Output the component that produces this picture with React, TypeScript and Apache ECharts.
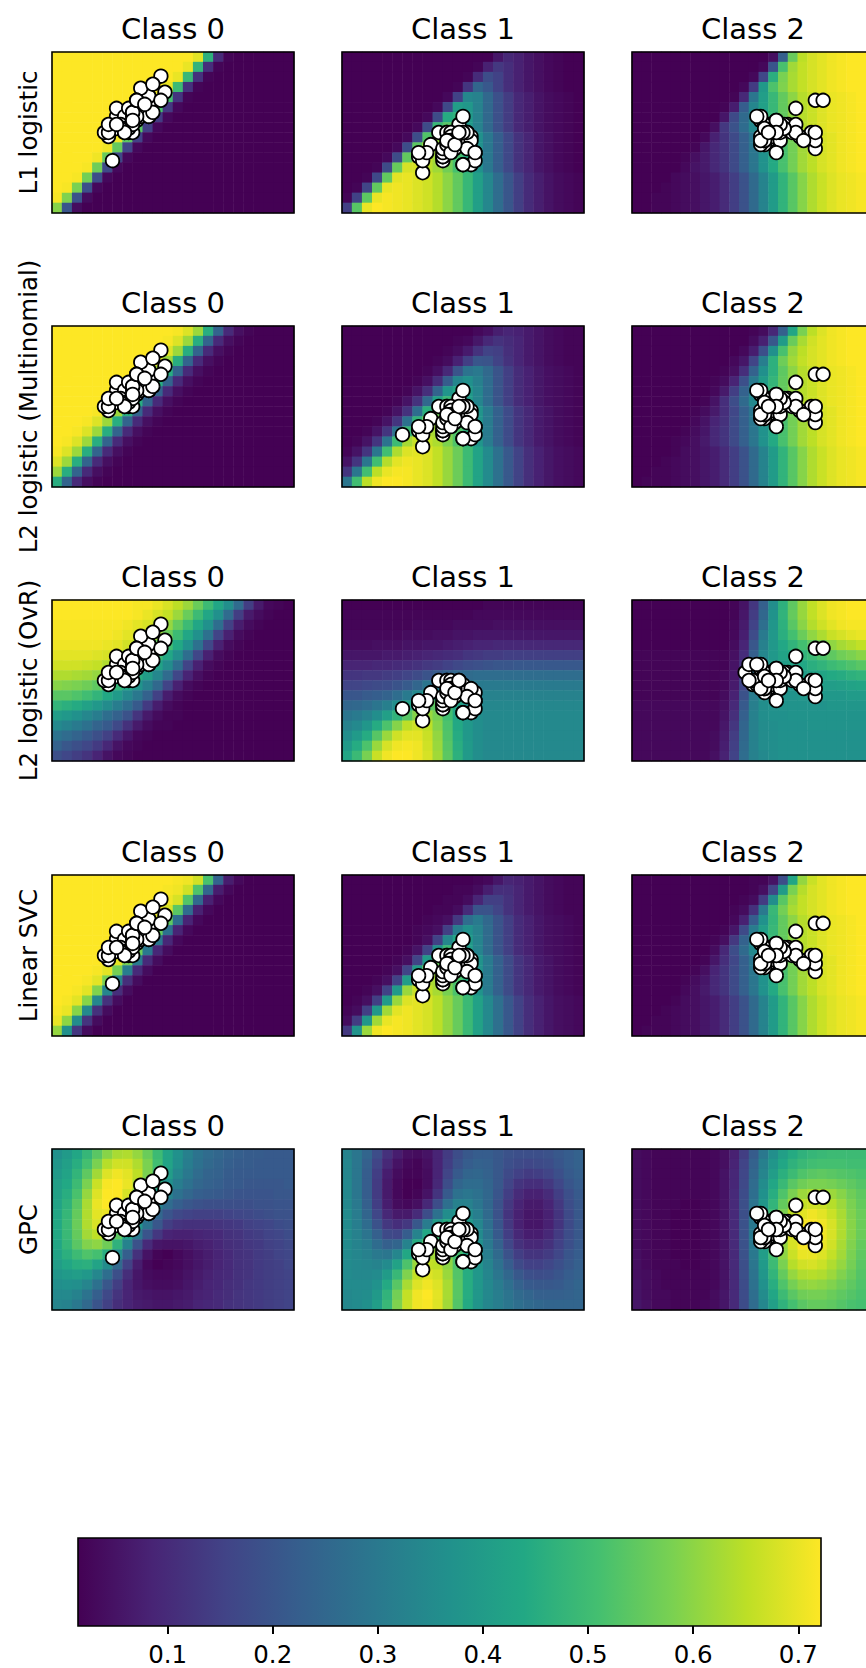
import React, { useEffect, useRef } from "react";
import * as echarts from "echarts";

// ---------------- data ----------------
const MODEL_NAMES = ["L1 logistic", "L2 logistic (Multinomial)", "L2 logistic (OvR)", "Linear SVC", "GPC"];
const CLASS_TITLES = ["Class 0", "Class 1", "Class 2"];
// centres of the probability cells: sepal length (x) and sepal width (y, bottom to top)
const GRID_X = [3.125, 3.375, 3.625, 3.875, 4.125, 4.375, 4.625, 4.875, 5.125, 5.375, 5.625, 5.875,
  6.125, 6.375, 6.625, 6.875, 7.125, 7.375, 7.625, 7.875, 8.125, 8.375, 8.625, 8.875];
const GRID_Y = [1.125, 1.375, 1.625, 1.875, 2.125, 2.375, 2.625, 2.875, 3.125, 3.375, 3.625, 3.875,
  4.125, 4.375, 4.625, 4.875];
const X_RANGE = [3, 9];
const Y_RANGE = [1, 5];
// colour bar of the last image (GPC, class 2)
const CBAR_MIN = 0.0147;
const CBAR_MAX = 0.7216;
const CBAR_TICKS = [0.1, 0.2, 0.3, 0.4, 0.5, 0.6, 0.7];

const SEPAL_LENGTH = [
  5.1, 4.9, 4.7, 4.6, 5.0, 5.4, 4.6, 5.0, 4.4, 4.9, 5.4, 4.8, 4.8, 4.3, 5.8, 5.7, 5.4, 5.1, 5.7, 5.1, 5.4, 5.1, 4.6, 5.1, 4.8,
  5.0, 5.0, 5.2, 5.2, 4.7, 4.8, 5.4, 5.2, 5.5, 4.9, 5.0, 5.5, 4.9, 4.4, 5.1, 5.0, 4.5, 4.4, 5.0, 5.1, 4.8, 5.1, 4.6, 5.3, 5.0,
  7.0, 6.4, 6.9, 5.5, 6.5, 5.7, 6.3, 4.9, 6.6, 5.2, 5.0, 5.9, 6.0, 6.1, 5.6, 6.7, 5.6, 5.8, 6.2, 5.6, 5.9, 6.1, 6.3, 6.1, 6.4,
  6.6, 6.8, 6.7, 6.0, 5.7, 5.5, 5.5, 5.8, 6.0, 5.4, 6.0, 6.7, 6.3, 5.6, 5.5, 5.5, 6.1, 5.8, 5.0, 5.6, 5.7, 5.7, 6.2, 5.1, 5.7,
  6.3, 5.8, 7.1, 6.3, 6.5, 7.6, 4.9, 7.3, 6.7, 7.2, 6.5, 6.4, 6.8, 5.7, 5.8, 6.4, 6.5, 7.7, 7.7, 6.0, 6.9, 5.6, 7.7, 6.3, 6.7,
  7.2, 6.2, 6.1, 6.4, 7.2, 7.4, 7.9, 6.4, 6.3, 6.1, 7.7, 6.3, 6.4, 6.0, 6.9, 6.7, 6.9, 5.8, 6.8, 6.7, 6.7, 6.3, 6.5, 6.2, 5.9,
];
const SEPAL_WIDTH = [
  3.5, 3.0, 3.2, 3.1, 3.6, 3.9, 3.4, 3.4, 2.9, 3.1, 3.7, 3.4, 3.0, 3.0, 4.0, 4.4, 3.9, 3.5, 3.8, 3.8, 3.4, 3.7, 3.6, 3.3, 3.4,
  3.0, 3.4, 3.5, 3.4, 3.2, 3.1, 3.4, 4.1, 4.2, 3.1, 3.2, 3.5, 3.6, 3.0, 3.4, 3.5, 2.3, 3.2, 3.5, 3.8, 3.0, 3.8, 3.2, 3.7, 3.3,
  3.2, 3.2, 3.1, 2.3, 2.8, 2.8, 3.3, 2.4, 2.9, 2.7, 2.0, 3.0, 2.2, 2.9, 2.9, 3.1, 3.0, 2.7, 2.2, 2.5, 3.2, 2.8, 2.5, 2.8, 2.9,
  3.0, 2.8, 3.0, 2.9, 2.6, 2.4, 2.4, 2.7, 2.7, 3.0, 3.4, 3.1, 2.3, 3.0, 2.5, 2.6, 3.0, 2.6, 2.3, 2.7, 3.0, 2.9, 2.9, 2.5, 2.8,
  3.3, 2.7, 3.0, 2.9, 3.0, 3.0, 2.5, 2.9, 2.5, 3.6, 3.2, 2.7, 3.0, 2.5, 2.8, 3.2, 3.0, 3.8, 2.6, 2.2, 3.2, 2.8, 2.8, 2.7, 3.3,
  3.2, 2.8, 3.0, 2.8, 3.0, 2.8, 3.8, 2.8, 2.8, 2.6, 3.0, 3.4, 3.1, 3.0, 3.1, 3.1, 3.1, 2.7, 3.2, 3.3, 3.0, 2.5, 3.0, 3.4, 3.0,
];

// predicted class of each sample, per classifier
const PRED_L1 = [
  0,0,0,0,0,0,0,0,0,0, 0,0,0,0,0,0,0,0,0,0, 0,0,0,0,0,0,0,0,0,0, 0,0,0,0,0,0,0,0,0,0, 0,0,0,0,0,0,0,0,0,0,
  2,2,2,1,2,1,2,1,2,1, 1,1,1,1,1,2,1,1,1,1, 1,1,1,1,2,2,2,2,1,1, 1,1,1,1,1,1,2,1,1,1, 1,1,1,1,1,1,1,1,1,1,
  2,1,2,2,2,2,1,2,2,2, 2,2,2,1,1,2,2,2,2,1, 2,1,2,2,2,2,1,1,2,2, 2,2,2,2,1,2,2,2,1,2, 2,2,1,2,2,2,1,2,2,1,
];
const PRED_L2M = [
  0,0,0,0,0,0,0,0,0,0, 0,0,0,0,0,0,0,0,0,0, 0,0,0,0,0,0,0,0,0,0, 0,0,0,0,0,0,0,0,0,0, 0,1,0,0,0,0,0,0,0,0,
  2,2,2,1,2,1,2,1,2,1, 1,1,1,1,1,2,1,1,1,1, 1,1,1,1,2,2,2,2,1,1, 1,1,1,1,1,1,2,1,1,1, 1,1,1,1,1,1,1,1,1,1,
  2,1,2,2,2,2,1,2,2,2, 2,2,2,1,1,2,2,2,2,1, 2,1,2,2,2,2,1,1,2,2, 2,2,2,2,1,2,2,2,1,2, 2,2,1,2,2,2,1,2,2,1,
];
const PRED_OVR = [
  0,0,0,0,0,0,0,0,0,0, 0,0,0,0,0,0,0,0,0,0, 0,0,0,0,0,0,0,0,0,0, 0,0,0,0,0,0,0,0,0,0, 0,1,0,0,0,0,0,0,0,0,
  2,2,2,1,2,1,2,1,2,1, 1,1,1,2,1,2,1,1,1,1, 2,1,1,1,2,2,2,2,1,1, 1,1,1,1,1,2,2,1,1,1, 1,2,1,1,1,1,1,2,1,1,
  2,1,2,2,2,2,1,2,2,2, 2,2,2,1,1,2,2,2,2,1, 2,1,2,1,2,2,1,2,2,2, 2,2,2,2,1,2,2,2,2,2, 2,2,1,2,2,2,1,2,2,1,
];
const PRED_SVC = [
  0,0,0,0,0,0,0,0,0,0, 0,0,0,0,0,0,0,0,0,0, 0,0,0,0,0,0,0,0,0,0, 0,0,0,0,0,0,0,0,0,0, 0,0,0,0,0,0,0,0,0,0,
  2,2,2,1,2,1,2,1,2,1, 1,1,1,1,1,2,1,1,1,1, 1,1,1,1,2,2,2,2,1,1, 1,1,1,1,1,1,2,1,1,1, 1,1,1,1,1,1,1,1,1,1,
  2,1,2,2,2,2,1,2,2,2, 2,2,2,1,1,2,2,2,2,1, 2,1,2,2,2,2,1,1,2,2, 2,2,2,2,1,2,2,2,1,2, 2,2,1,2,2,2,1,2,2,1,
];
const PRED_GPC = [
  0,0,0,0,0,0,0,0,0,0, 0,0,0,0,0,0,0,0,0,0, 0,0,0,0,0,0,0,0,0,0, 0,0,0,0,0,0,0,0,0,0, 0,0,0,0,0,0,0,0,0,0,
  2,2,2,1,2,1,2,1,2,1, 1,1,1,1,1,2,1,1,1,1, 1,1,1,1,2,2,2,2,1,1, 1,1,1,1,1,1,2,1,1,1, 1,1,1,1,1,1,1,1,1,1,
  2,1,2,2,2,2,1,2,2,2, 2,2,2,1,1,2,2,2,2,1, 2,1,2,2,2,2,1,1,2,2, 2,2,2,2,1,2,2,2,1,2, 2,2,1,2,2,2,1,2,2,1,
];

// estimated probability (percent of each image's own colour scale) on the cell grid;
// rows run from the top (width 4.875) to the bottom (width 1.125)
const L1_C0 = [
  [99,99,99,99,99,99,99,99,99,99,99,99,99,99,95,63,12,1,0,0,0,0,0,0],
  [99,99,99,99,99,99,99,99,99,99,99,99,99,96,64,13,1,0,0,0,0,0,0,0],
  [99,99,99,99,99,99,99,99,99,99,99,99,96,66,14,1,0,0,0,0,0,0,0,0],
  [99,99,99,99,99,99,99,99,99,99,99,96,67,14,1,0,0,0,0,0,0,0,0,0],
  [99,99,99,99,99,99,99,99,99,99,96,69,15,1,0,0,0,0,0,0,0,0,0,0],
  [99,99,99,99,99,99,99,99,99,96,70,16,2,0,0,0,0,0,0,0,0,0,0,0],
  [99,99,99,99,99,99,99,99,97,71,17,2,0,0,0,0,0,0,0,0,0,0,0,0],
  [99,99,99,99,99,99,99,97,73,18,2,0,0,0,0,0,0,0,0,0,0,0,0,0],
  [99,99,99,99,99,99,97,74,19,2,0,0,0,0,0,0,0,0,0,0,0,0,0,0],
  [99,99,99,99,99,97,75,20,2,0,0,0,0,0,0,0,0,0,0,0,0,0,0,0],
  [99,99,99,99,97,76,21,2,0,0,0,0,0,0,0,0,0,0,0,0,0,0,0,0],
  [99,99,99,98,77,22,2,0,0,0,0,0,0,0,0,0,0,0,0,0,0,0,0,0],
  [99,99,98,78,23,2,0,0,0,0,0,0,0,0,0,0,0,0,0,0,0,0,0,0],
  [99,98,79,24,2,0,0,0,0,0,0,0,0,0,0,0,0,0,0,0,0,0,0,0],
  [98,80,25,3,0,0,0,0,0,0,0,0,0,0,0,0,0,0,0,0,0,0,0,0],
  [81,26,3,0,0,0,0,0,0,0,0,0,0,0,0,0,0,0,0,0,0,0,0,0],
];
const L1_C1 = [
  [1,1,1,1,1,1,1,1,1,1,1,1,1,1,1,7,12,10,7,5,3,2,1,1],
  [1,1,1,1,1,1,1,1,1,1,1,1,1,2,10,17,14,10,7,5,3,2,1,1],
  [1,1,1,1,1,1,1,1,1,1,1,1,2,13,24,20,14,10,7,5,3,2,1,1],
  [1,1,1,1,1,1,1,1,1,1,1,2,16,33,28,20,14,10,7,5,3,2,1,1],
  [1,1,1,1,1,1,1,1,1,1,3,20,46,44,34,25,18,12,9,6,4,3,2,1],
  [1,1,1,1,1,1,1,1,1,3,22,55,53,44,34,25,18,12,9,6,4,3,2,1],
  [1,1,1,1,1,1,1,1,3,23,61,64,54,44,34,25,18,12,9,6,4,3,2,1],
  [1,1,1,1,1,1,1,3,23,66,73,65,54,44,34,25,18,12,9,6,4,3,2,1],
  [1,1,1,1,1,1,3,24,72,83,78,70,61,50,40,30,22,15,11,7,5,3,2,1],
  [1,1,1,1,1,3,24,74,87,85,78,70,61,50,40,30,22,15,11,7,5,3,2,1],
  [1,1,1,1,3,23,75,91,89,85,78,70,61,50,40,30,22,15,11,7,5,3,2,1],
  [1,1,1,2,23,76,93,93,89,85,78,70,61,50,40,30,22,15,11,7,5,3,2,1],
  [1,1,2,22,75,95,96,94,92,88,82,75,66,56,46,36,27,19,13,9,6,4,3,2],
  [1,2,21,75,96,97,96,94,92,88,82,75,66,56,46,36,27,19,13,9,6,4,3,2],
  [2,20,74,96,98,97,96,94,92,88,82,75,66,56,46,36,27,19,13,9,6,4,3,2],
  [19,73,96,99,98,97,96,94,92,88,82,75,66,56,46,36,27,19,13,9,6,4,3,2],
];
const L1_C2 = [
  [0,0,0,0,0,0,0,0,0,0,0,0,0,0,4,30,76,89,93,95,97,98,99,99],
  [0,0,0,0,0,0,0,0,0,0,0,0,0,2,26,70,85,90,93,95,97,98,99,99],
  [0,0,0,0,0,0,0,0,0,0,0,0,2,21,62,79,86,90,93,95,97,98,99,99],
  [0,0,0,0,0,0,0,0,0,0,0,2,17,53,71,80,86,90,93,95,97,98,99,99],
  [0,0,0,0,0,0,0,0,0,0,1,11,39,55,66,75,82,88,91,94,96,97,98,99],
  [0,0,0,0,0,0,0,0,0,1,8,29,45,56,66,75,82,88,91,94,96,97,98,99],
  [0,0,0,0,0,0,0,0,0,6,22,34,46,56,66,75,82,88,91,94,96,97,98,99],
  [0,0,0,0,0,0,0,0,4,16,25,35,46,56,66,75,82,88,91,94,96,97,98,99],
  [0,0,0,0,0,0,0,2,9,15,22,30,39,50,60,70,78,85,89,93,95,97,98,99],
  [0,0,0,0,0,0,1,6,11,15,22,30,39,50,60,70,78,85,89,93,95,97,98,99],
  [0,0,0,0,0,1,4,7,11,15,22,30,39,50,60,70,78,85,89,93,95,97,98,99],
  [0,0,0,0,0,2,5,7,11,15,22,30,39,50,60,70,78,85,89,93,95,97,98,99],
  [0,0,0,0,2,3,4,6,8,12,18,25,34,44,54,64,73,81,87,91,94,96,97,98],
  [0,0,0,1,2,3,4,6,8,12,18,25,34,44,54,64,73,81,87,91,94,96,97,98],
  [0,0,1,1,2,3,4,6,8,12,18,25,34,44,54,64,73,81,87,91,94,96,97,98],
  [0,0,1,1,2,3,4,6,8,12,18,25,34,44,54,64,73,81,87,91,94,96,97,98],
];
const L2M_C0 = [
  [100,100,100,100,100,100,100,100,100,100,100,100,99,95,85,62,32,12,4,1,0,0,0,0],
  [100,100,100,100,100,100,100,100,100,100,100,99,95,85,62,32,12,4,1,0,0,0,0,0],
  [100,100,100,100,100,100,100,100,100,100,99,95,85,62,32,12,4,1,0,0,0,0,0,0],
  [100,100,100,100,100,100,100,100,100,99,95,85,62,32,12,4,1,0,0,0,0,0,0,0],
  [100,100,100,100,100,100,100,100,99,95,85,62,32,12,4,1,0,0,0,0,0,0,0,0],
  [100,100,100,100,100,100,100,99,95,85,62,32,12,4,1,0,0,0,0,0,0,0,0,0],
  [100,100,100,100,100,100,99,95,85,62,32,12,4,1,0,0,0,0,0,0,0,0,0,0],
  [100,100,100,100,100,99,95,85,62,32,12,4,1,0,0,0,0,0,0,0,0,0,0,0],
  [100,100,100,100,99,95,85,62,32,12,4,1,0,0,0,0,0,0,0,0,0,0,0,0],
  [100,100,100,99,95,85,62,32,12,4,1,0,0,0,0,0,0,0,0,0,0,0,0,0],
  [100,100,99,95,85,62,32,12,4,1,0,0,0,0,0,0,0,0,0,0,0,0,0,0],
  [100,99,95,85,62,32,12,4,1,0,0,0,0,0,0,0,0,0,0,0,0,0,0,0],
  [99,95,85,62,32,12,4,1,0,0,0,0,0,0,0,0,0,0,0,0,0,0,0,0],
  [95,85,62,32,12,4,1,0,0,0,0,0,0,0,0,0,0,0,0,0,0,0,0,0],
  [85,62,32,12,4,1,0,0,0,0,0,0,0,0,0,0,0,0,0,0,0,0,0,0],
  [62,32,12,4,1,0,0,0,0,0,0,0,0,0,0,0,0,0,0,0,0,0,0,0],
];
const L2M_C1 = [
  [0,0,0,0,0,0,0,0,0,0,0,0,0,2,4,8,10,9,7,5,3,2,1,1],
  [0,0,0,0,0,0,0,0,0,0,0,1,2,6,11,14,12,10,7,5,3,2,1,1],
  [0,0,0,0,0,0,0,0,0,0,1,3,7,14,19,18,13,10,7,5,3,2,1,1],
  [0,0,0,0,0,0,0,0,0,1,3,9,18,26,25,19,14,10,7,5,3,2,1,1],
  [0,0,0,0,0,0,0,0,1,4,11,25,37,39,33,25,18,12,9,6,4,3,2,1],
  [0,0,0,0,0,0,0,1,4,12,28,44,48,42,34,25,18,12,9,6,4,3,2,1],
  [0,0,0,0,0,0,1,5,13,31,50,57,52,44,34,25,18,12,9,6,4,3,2,1],
  [0,0,0,0,0,1,5,14,33,55,65,62,53,44,34,25,18,12,9,6,4,3,2,1],
  [0,0,0,0,1,5,14,35,61,75,75,69,61,50,40,30,22,15,11,7,5,3,2,1],
  [0,0,0,1,5,15,36,63,78,82,77,70,61,50,40,30,22,15,11,7,5,3,2,1],
  [0,0,1,5,15,37,65,82,85,84,78,70,61,50,40,30,22,15,11,7,5,3,2,1],
  [0,1,5,15,37,66,84,89,88,85,78,70,61,50,40,30,22,15,11,7,5,3,2,1],
  [1,5,15,38,67,85,92,93,92,88,82,75,66,56,46,36,27,19,13,9,6,4,3,2],
  [5,15,38,67,86,93,95,94,92,88,82,75,66,56,46,36,27,19,13,9,6,4,3,2],
  [15,38,67,87,94,96,96,94,92,88,82,75,66,56,46,36,27,19,13,9,6,4,3,2],
  [38,67,87,95,97,97,96,94,92,88,82,75,66,56,46,36,27,19,13,9,6,4,3,2],
];
const L2M_C2 = [
  [0,0,0,0,0,0,0,0,0,0,0,0,1,3,11,30,58,79,89,94,97,98,99,99],
  [0,0,0,0,0,0,0,0,0,0,0,0,3,9,27,54,76,86,92,95,97,98,99,99],
  [0,0,0,0,0,0,0,0,0,0,0,2,8,24,49,70,83,89,93,95,97,98,99,99],
  [0,0,0,0,0,0,0,0,0,0,2,6,20,42,63,77,85,90,93,95,97,98,99,99],
  [0,0,0,0,0,0,0,0,0,1,4,13,31,49,63,74,82,88,91,94,96,97,98,99],
  [0,0,0,0,0,0,0,0,1,3,10,24,40,54,65,75,82,88,91,94,96,97,98,99],
  [0,0,0,0,0,0,0,0,2,7,18,31,44,55,66,75,82,88,91,94,96,97,98,99],
  [0,0,0,0,0,0,0,1,5,13,23,34,46,56,66,75,82,88,91,94,96,97,98,99],
  [0,0,0,0,0,0,1,3,7,13,21,30,39,50,60,70,78,85,89,93,95,97,98,99],
  [0,0,0,0,0,0,2,5,10,14,22,30,39,50,60,70,78,85,89,93,95,97,98,99],
  [0,0,0,0,0,1,3,6,11,15,22,30,39,50,60,70,78,85,89,93,95,97,98,99],
  [0,0,0,0,1,2,4,7,11,15,22,30,39,50,60,70,78,85,89,93,95,97,98,99],
  [0,0,0,0,1,3,4,6,8,12,18,25,34,44,54,64,73,81,87,91,94,96,97,98],
  [0,0,0,1,2,3,4,6,8,12,18,25,34,44,54,64,73,81,87,91,94,96,97,98],
  [0,0,1,1,2,3,4,6,8,12,18,25,34,44,54,64,73,81,87,91,94,96,97,98],
  [0,1,1,1,2,3,4,6,8,12,18,25,34,44,54,64,73,81,87,91,94,96,97,98],
];
const OVR_C0 = [
  [100,100,100,100,100,100,100,100,99,99,97,94,90,85,77,68,59,49,35,18,7,2,1,0],
  [100,100,100,100,100,100,100,100,99,97,94,91,85,77,68,59,50,35,18,7,3,1,0,0],
  [99,99,99,99,99,99,99,98,96,94,90,84,76,68,59,50,36,19,8,3,1,0,0,0],
  [99,99,99,99,99,99,98,96,94,90,85,77,68,59,50,37,20,9,3,1,0,0,0,0],
  [98,98,98,98,98,97,96,93,89,84,76,69,60,50,37,21,9,3,1,0,0,0,0,0],
  [96,96,96,96,95,94,91,87,83,76,67,59,49,36,21,9,3,1,0,0,0,0,0,0],
  [93,93,93,92,91,88,86,80,73,65,57,48,36,20,9,3,1,0,0,0,0,0,0,0],
  [88,88,87,86,84,81,77,70,62,55,46,35,21,10,4,1,0,0,0,0,0,0,0,0],
  [82,81,80,78,75,71,66,58,51,43,34,20,9,3,1,0,0,0,0,0,0,0,0,0],
  [74,74,72,69,65,60,54,47,40,31,19,8,3,1,0,0,0,0,0,0,0,0,0,0],
  [65,63,61,57,53,48,42,36,28,17,8,3,1,0,0,0,0,0,0,0,0,0,0,0],
  [55,53,50,46,42,36,31,25,15,7,3,1,1,0,0,0,0,0,0,0,0,0,0,0],
  [47,44,41,37,32,28,22,14,7,3,1,1,0,0,0,0,0,0,0,0,0,0,0,0],
  [38,35,32,28,24,19,12,6,2,1,0,0,0,0,0,0,0,0,0,0,0,0,0,0],
  [31,27,24,21,17,11,5,2,1,0,0,0,0,0,0,0,0,0,0,0,0,0,0,0],
  [24,21,18,15,10,5,2,1,0,0,0,0,0,0,0,0,0,0,0,0,0,0,0,0],
];
const OVR_C1 = [
  [2,2,2,2,2,2,2,2,2,2,2,2,2,2,3,3,3,3,3,3,3,3,3,3],
  [3,3,3,3,3,3,3,3,3,3,3,3,3,4,4,4,4,4,4,4,4,4,4,4],
  [3,3,3,3,3,3,3,4,4,4,4,5,5,5,5,6,6,6,6,6,6,6,6,6],
  [4,4,4,4,4,4,5,5,5,6,6,7,7,8,8,8,8,8,8,8,8,8,8,8],
  [5,5,5,6,6,6,7,7,8,8,9,10,11,12,12,13,13,13,13,13,13,13,13,13],
  [8,8,8,8,9,9,10,11,12,13,14,15,17,18,19,19,20,20,20,20,20,20,20,20],
  [12,12,12,13,13,14,15,16,18,19,21,23,25,26,27,28,28,29,29,29,29,29,29,29],
  [17,17,18,18,19,20,22,24,27,30,33,35,36,37,37,37,37,37,37,37,37,37,37,37],
  [22,22,23,24,25,27,30,34,40,45,47,45,43,42,42,42,42,42,42,42,42,42,42,42],
  [28,28,30,31,33,37,42,48,55,60,58,52,48,46,45,45,45,45,45,45,45,45,45,45],
  [34,35,37,40,44,50,58,67,74,75,68,58,52,49,47,47,47,47,47,47,47,47,47,47],
  [40,42,45,50,57,65,74,82,85,80,70,60,53,50,48,48,48,48,48,48,48,48,48,48],
  [45,48,53,62,72,82,90,93,90,82,72,61,54,50,48,48,48,48,48,48,48,48,48,48],
  [50,55,62,74,85,93,96,96,92,84,73,62,54,50,48,48,48,48,48,48,48,48,48,48],
  [55,62,72,85,94,98,99,98,93,85,74,63,55,50,48,48,48,48,48,48,48,48,48,48],
  [60,68,80,92,98,100,100,98,94,86,75,64,55,50,48,48,48,48,48,48,48,48,48,48],
];
const OVR_C2 = [
  [1,1,1,1,1,1,1,1,1,1,2,6,16,30,48,62,73,82,88,92,95,96,97,97],
  [1,1,1,1,1,1,1,1,1,1,2,7,18,33,50,63,74,82,88,92,95,96,97,97],
  [1,1,1,1,1,1,1,1,1,1,3,8,20,36,51,62,72,80,86,90,93,95,96,96],
  [1,1,1,1,1,1,1,1,1,1,3,9,23,40,52,61,68,75,81,85,89,91,93,94],
  [1,1,1,1,1,1,1,1,1,1,4,11,27,43,52,58,63,68,73,77,81,84,86,88],
  [2,2,2,2,2,2,2,2,2,2,5,13,30,45,52,56,59,63,66,70,73,76,78,80],
  [2,2,2,2,2,2,2,2,2,2,6,15,33,46,51,54,56,58,61,63,66,68,70,72],
  [2,2,2,2,2,2,2,2,2,3,7,18,36,47,51,52,53,54,56,57,59,60,62,63],
  [2,2,2,2,2,2,2,2,2,3,8,21,39,48,50,51,51,52,53,54,54,55,56,57],
  [2,2,2,2,2,2,2,2,2,4,10,25,41,48,50,50,50,51,51,52,52,52,53,53],
  [3,3,3,3,3,3,3,3,3,5,12,28,42,48,49,50,50,50,50,50,51,51,51,51],
  [3,3,3,3,3,3,3,3,3,6,14,30,43,48,49,49,50,50,50,50,50,50,50,50],
  [3,3,3,3,3,3,3,3,3,7,16,32,43,47,48,49,49,49,50,50,50,50,50,50],
  [3,3,3,3,3,3,3,3,4,8,18,33,43,47,48,49,49,49,49,49,49,49,49,49],
  [3,3,3,3,3,3,3,3,4,9,19,34,43,47,48,49,49,49,49,49,49,49,49,49],
  [3,3,3,3,3,3,3,3,5,10,20,35,43,46,48,49,49,49,49,49,49,49,49,49],
];
const SVC_C0 = [
  [100,100,100,100,100,100,100,100,100,100,100,100,99,98,93,71,32,8,2,0,0,0,0,0],
  [100,100,100,100,100,100,100,100,100,100,100,99,98,93,72,33,8,2,0,0,0,0,0,0],
  [100,100,100,100,100,100,100,100,100,100,99,98,94,73,34,9,2,0,0,0,0,0,0,0],
  [100,100,100,100,100,100,100,100,100,99,98,94,74,35,9,2,0,0,0,0,0,0,0,0],
  [100,100,100,100,100,100,100,100,99,98,94,75,36,10,2,0,0,0,0,0,0,0,0,0],
  [100,100,100,100,100,100,100,99,98,95,76,37,10,2,0,0,0,0,0,0,0,0,0,0],
  [100,100,100,100,100,100,100,99,95,77,39,11,2,0,0,0,0,0,0,0,0,0,0,0],
  [100,100,100,100,100,100,99,95,78,40,11,3,0,0,0,0,0,0,0,0,0,0,0,0],
  [100,100,100,100,100,99,96,79,41,12,3,0,0,0,0,0,0,0,0,0,0,0,0,0],
  [100,100,100,100,99,96,79,42,12,3,0,0,0,0,0,0,0,0,0,0,0,0,0,0],
  [100,100,100,99,96,80,43,13,3,0,0,0,0,0,0,0,0,0,0,0,0,0,0,0],
  [100,100,99,96,81,45,13,3,0,0,0,0,0,0,0,0,0,0,0,0,0,0,0,0],
  [100,99,96,82,46,14,3,0,0,0,0,0,0,0,0,0,0,0,0,0,0,0,0,0],
  [99,97,82,47,14,3,0,0,0,0,0,0,0,0,0,0,0,0,0,0,0,0,0,0],
  [97,83,48,15,3,0,0,0,0,0,0,0,0,0,0,0,0,0,0,0,0,0,0,0],
  [84,50,16,3,0,0,0,0,0,0,0,0,0,0,0,0,0,0,0,0,0,0,0,0],
];
const SVC_C1 = [
  [0,0,0,0,0,0,0,0,0,0,0,0,0,1,2,6,10,9,7,5,3,2,1,1],
  [0,0,0,0,0,0,0,0,0,0,0,1,1,3,8,13,13,10,7,5,3,2,1,1],
  [0,0,0,0,0,0,0,0,0,0,1,1,3,10,18,18,14,10,7,5,3,2,1,1],
  [0,0,0,0,0,0,0,0,0,1,1,3,12,25,25,20,14,10,7,5,3,2,1,1],
  [0,0,0,0,0,0,0,0,1,2,4,16,35,40,33,25,18,12,9,6,4,3,2,1],
  [0,0,0,0,0,0,0,1,2,4,18,41,49,43,34,25,18,12,9,6,4,3,2,1],
  [0,0,0,0,0,0,0,1,4,19,45,58,53,44,34,25,18,12,9,6,4,3,2,1],
  [0,0,0,0,0,0,1,5,19,49,66,63,54,44,34,25,18,12,9,6,4,3,2,1],
  [0,0,0,0,0,1,4,20,53,75,76,70,61,50,40,30,22,15,11,7,5,3,2,1],
  [0,0,0,0,1,4,20,54,78,82,78,70,61,50,40,30,22,15,11,7,5,3,2,1],
  [0,0,0,1,4,19,54,81,86,85,78,70,61,50,40,30,22,15,11,7,5,3,2,1],
  [0,0,1,4,19,53,83,90,89,85,78,70,61,50,40,30,22,15,11,7,5,3,2,1],
  [0,1,4,18,53,83,93,94,92,88,82,75,66,56,46,36,27,19,13,9,6,4,3,2],
  [1,3,18,52,84,94,96,94,92,88,82,75,66,56,46,36,27,19,13,9,6,4,3,2],
  [3,17,51,84,95,97,96,94,92,88,82,75,66,56,46,36,27,19,13,9,6,4,3,2],
  [16,50,83,96,98,97,96,94,92,88,82,75,66,56,46,36,27,19,13,9,6,4,3,2],
];
const SVC_C2 = [
  [0,0,0,0,0,0,0,0,0,0,0,0,1,1,5,23,58,83,91,95,97,98,99,99],
  [0,0,0,0,0,0,0,0,0,0,0,0,1,4,20,54,79,88,93,95,97,98,99,99],
  [0,0,0,0,0,0,0,0,0,0,0,1,3,17,48,73,84,90,93,95,97,98,99,99],
  [0,0,0,0,0,0,0,0,0,0,1,3,14,40,66,78,86,90,93,95,97,98,99,99],
  [0,0,0,0,0,0,0,0,0,0,2,9,29,50,65,75,82,88,91,94,96,97,98,99],
  [0,0,0,0,0,0,0,0,0,1,6,22,41,55,66,75,82,88,91,94,96,97,98,99],
  [0,0,0,0,0,0,0,0,1,4,16,31,45,56,66,75,82,88,91,94,96,97,98,99],
  [0,0,0,0,0,0,0,0,3,11,23,34,46,56,66,75,82,88,91,94,96,97,98,99],
  [0,0,0,0,0,0,0,1,6,13,21,30,39,50,60,70,78,85,89,93,95,97,98,99],
  [0,0,0,0,0,0,1,4,10,15,22,30,39,50,60,70,78,85,89,93,95,97,98,99],
  [0,0,0,0,0,1,3,6,11,15,22,30,39,50,60,70,78,85,89,93,95,97,98,99],
  [0,0,0,0,0,2,4,7,11,15,22,30,39,50,60,70,78,85,89,93,95,97,98,99],
  [0,0,0,0,1,3,4,6,8,12,18,25,34,44,54,64,73,81,87,91,94,96,97,98],
  [0,0,0,1,2,3,4,6,8,12,18,25,34,44,54,64,73,81,87,91,94,96,97,98],
  [0,0,1,1,2,3,4,6,8,12,18,25,34,44,54,64,73,81,87,91,94,96,97,98],
  [0,1,1,1,2,3,4,6,8,12,18,25,34,44,54,64,73,81,87,91,94,96,97,98],
];
const GPC_C0 = [
  [50,54,59,66,74,82,87,88,84,77,68,58,50,43,38,35,33,31,30,29,29,28,28,28],
  [52,56,62,70,80,89,93,93,88,80,69,58,49,42,37,34,32,30,29,29,28,28,28,28],
  [54,58,65,75,86,95,98,96,90,80,67,55,46,40,35,32,31,29,28,28,28,28,28,28],
  [56,60,68,80,92,99,100,97,88,76,62,50,42,37,33,31,30,28,28,27,27,27,27,28],
  [57,62,71,84,95,100,100,94,82,68,54,44,37,33,30,29,28,27,26,26,26,26,27,27],
  [58,64,74,87,97,100,97,87,72,56,43,35,30,27,25,24,24,24,24,24,25,25,26,26],
  [59,66,76,88,96,97,91,77,60,44,33,26,22,20,19,19,19,20,21,22,23,24,25,25],
  [60,67,77,88,94,93,84,67,52,38,27,18,15,14,14,14,15,16,17,19,20,21,23,24],
  [60,67,76,86,90,87,75,56,40,26,16,10,9,9,10,11,12,14,15,17,18,20,21,23],
  [59,66,74,81,83,78,64,44,25,12,6,5,5,6,8,9,11,13,14,16,17,19,20,22],
  [58,63,68,72,70,62,48,30,14,5,1,0,2,4,6,8,10,12,14,15,17,18,20,21],
  [55,59,62,63,58,48,34,19,8,2,0,1,2,4,6,8,10,12,14,15,17,18,19,21],
  [52,54,55,53,46,36,24,13,6,3,2,2,3,5,7,9,11,12,14,15,17,18,19,20],
  [49,50,49,45,37,27,18,10,6,4,3,3,4,6,8,10,11,13,14,16,17,18,19,20],
  [47,47,44,38,30,22,15,10,7,6,5,5,6,7,9,10,12,13,15,16,17,18,19,20],
  [45,44,40,34,26,19,13,10,8,7,6,6,7,8,10,11,12,14,15,16,17,18,19,20],
];
const GPC_C1 = [
  [45,40,33,24,15,9,5,4,6,11,18,24,28,30,30,28,26,25,25,25,26,28,30,32],
  [46,40,31,21,12,6,3,2,5,11,19,26,30,32,31,28,25,23,22,23,24,27,30,32],
  [46,40,30,19,9,4,2,2,4,11,21,29,33,34,32,28,23,20,18,19,21,25,29,31],
  [47,40,30,18,8,3,1,1,4,12,24,33,36,36,33,28,21,16,14,14,17,22,27,30],
  [47,40,30,18,8,3,1,2,6,16,29,38,40,38,34,27,19,13,10,10,13,19,25,29],
  [47,41,31,19,9,4,3,5,12,24,37,44,44,40,34,26,17,11,8,8,11,17,24,28],
  [48,42,33,22,12,8,8,13,24,38,49,52,49,43,35,26,16,10,7,7,10,16,23,28],
  [48,43,36,26,17,14,17,28,42,55,62,60,54,46,37,27,17,10,7,7,10,16,23,28],
  [48,44,39,31,23,22,30,45,60,68,70,65,57,48,39,29,19,12,9,9,12,18,24,28],
  [48,45,42,36,31,33,45,62,74,78,76,68,59,50,41,32,22,15,12,12,15,20,25,29],
  [48,46,44,41,40,46,60,76,85,86,80,70,60,51,43,35,26,19,16,16,18,22,27,30],
  [48,47,46,45,48,58,72,85,91,90,83,72,61,52,45,38,30,23,20,20,22,25,28,31],
  [48,47,47,48,55,67,81,91,95,93,85,73,62,53,46,40,34,28,25,24,25,27,30,32],
  [48,48,48,51,61,74,87,95,98,95,87,74,62,53,47,42,37,32,29,28,28,29,31,33],
  [47,48,49,54,65,79,91,98,100,96,87,74,62,53,47,43,39,35,33,31,31,31,32,33],
  [47,48,50,56,67,81,92,98,99,95,86,73,61,52,46,43,40,37,35,34,33,33,33,33],
];
const GPC_C2 = [
  [3,2,1,1,1,1,1,1,2,4,9,18,29,40,49,56,61,64,66,67,68,68,68,68],
  [3,2,1,1,1,1,1,1,2,4,10,20,31,43,52,59,64,67,69,70,70,70,69,69],
  [3,2,1,1,1,1,1,1,2,5,11,21,33,45,55,63,68,72,74,75,74,73,72,71],
  [3,2,1,1,1,1,1,1,2,5,11,22,35,48,59,67,74,78,80,80,79,77,75,73],
  [3,2,1,1,1,1,1,1,2,5,12,23,36,50,62,72,80,85,87,87,85,82,78,75],
  [3,2,1,1,1,0,0,1,2,5,12,24,38,52,65,76,85,91,93,92,89,85,80,76],
  [3,2,1,1,0,0,0,1,2,5,12,24,39,54,68,80,90,96,98,96,92,87,81,77],
  [3,2,1,1,0,0,0,1,2,5,12,25,40,55,70,82,93,99,100,98,94,88,82,77],
  [3,2,1,1,0,0,0,1,2,5,12,25,40,56,71,84,94,100,100,98,94,88,82,77],
  [3,2,1,1,0,0,0,1,2,5,12,25,40,56,71,84,94,99,100,97,93,87,81,76],
  [4,2,1,1,0,0,0,1,2,5,12,25,40,55,70,83,92,97,97,95,91,86,80,75],
  [4,2,1,1,1,0,0,1,2,5,12,24,39,54,68,80,89,93,94,92,88,84,79,74],
  [4,3,2,1,1,1,1,1,2,5,12,24,38,52,65,76,84,88,89,88,85,81,77,73],
  [5,3,2,1,1,1,1,1,2,5,12,23,37,50,62,72,79,83,84,83,81,78,75,72],
  [5,3,2,2,1,1,1,1,3,6,12,23,36,48,59,68,74,78,79,79,77,75,73,71],
  [6,4,2,2,1,1,1,2,3,6,12,23,35,46,56,64,70,74,76,76,75,73,71,70],
];

const PROBAS = [
  [L1_C0, L1_C1, L1_C2],
  [L2M_C0, L2M_C1, L2M_C2],
  [OVR_C0, OVR_C1, OVR_C2],
  [SVC_C0, SVC_C1, SVC_C2],
  [GPC_C0, GPC_C1, GPC_C2],
];
const PREDS = [PRED_L1, PRED_L2M, PRED_OVR, PRED_SVC, PRED_GPC];

// ---------------- style / layout ----------------
const VIRIDIS = ["#440154", "#482475", "#414487", "#355f8d", "#2a788e", "#21918c", "#22a884", "#44bf70", "#7ad151", "#bddf26", "#fde725"];
const FONT = "DejaVu Sans";
const W = 866;
const H = 1668;
const PW = 242;
const PH = 161;
const COL_LEFT = [52, 342, 632];
const ROW_TOP = [52, 326, 600, 875, 1149];
const CB = { left: 78, top: 1538, width: 743, height: 88 };

function buildOption() {
  const grid: any[] = [];
  const xAxis: any[] = [];
  const yAxis: any[] = [];
  const heat: any[] = [];
  const scat: any[] = [];
  const visualMap: any[] = [];
  const graphic: any[] = [];
  let p = 0;
  for (let m = 0; m < PROBAS.length; m++) {
    const top = ROW_TOP[m];
    graphic.push({
      type: "text",
      x: 28,
      y: top + PH / 2,
      rotation: Math.PI / 2,
      z: 100,
      silent: true,
      style: {
        text: MODEL_NAMES[m],
        fontSize: 24.5,
        fontFamily: FONT,
        fill: "#000",
        align: "center",
        verticalAlign: "middle",
        textAlign: "center",
        textVerticalAlign: "middle",
      },
    });
    for (let k = 0; k < 3; k++) {
      const left = COL_LEFT[k];
      grid.push({ left, top, width: PW, height: PH, containLabel: false });
      xAxis.push({ type: "category", gridIndex: p, data: GRID_X.map(String), show: false });
      xAxis.push({ type: "value", gridIndex: p, min: X_RANGE[0], max: X_RANGE[1], show: false });
      yAxis.push({ type: "category", gridIndex: p, data: GRID_Y.map(String), show: false });
      yAxis.push({ type: "value", gridIndex: p, min: Y_RANGE[0], max: Y_RANGE[1], show: false });

      const rows = PROBAS[m][k];
      const data: number[][] = [];
      rows.forEach((row, r) => row.forEach((v, c) => data.push([c, rows.length - 1 - r, v])));
      const flat = rows.flat();
      heat.push({
        type: "heatmap",
        coordinateSystem: "cartesian2d",
        xAxisIndex: 2 * p,
        yAxisIndex: 2 * p,
        data,
        silent: true,
        itemStyle: { borderWidth: 0 },
        emphasis: { disabled: true },
        z: 2,
      });
      visualMap.push({
        type: "continuous",
        show: false,
        seriesIndex: p,
        dimension: 2,
        min: Math.min(...flat),
        max: Math.max(...flat),
        inRange: { color: VIRIDIS },
      });
      const pred = PREDS[m];
      const pts: number[][] = [];
      for (let i = 0; i < pred.length; i++) {
        if (pred[i] === k) pts.push([SEPAL_LENGTH[i], SEPAL_WIDTH[i]]);
      }
      scat.push({
        type: "scatter",
        xAxisIndex: 2 * p + 1,
        yAxisIndex: 2 * p + 1,
        data: pts,
        symbol: "circle",
        symbolSize: 13.5,
        silent: true,
        itemStyle: { color: "#ffffff", borderColor: "#000000", borderWidth: 1.8, opacity: 1 },
        z: 3,
      });
      graphic.push({
        type: "rect",
        z: 100,
        silent: true,
        shape: { x: left, y: top, width: PW, height: PH },
        style: { fill: "none", stroke: "#000", lineWidth: 1.6 },
      });
      graphic.push({
        type: "text",
        x: left + PW / 2,
        y: top - 23.5,
        z: 100,
        silent: true,
        style: {
          text: CLASS_TITLES[k],
          fontSize: 29,
          fontFamily: FONT,
          fill: "#000",
          align: "center",
          verticalAlign: "middle",
          textAlign: "center",
          textVerticalAlign: "middle",
        },
      });
      p++;
    }
  }

  // colour bar
  grid.push({ left: CB.left, top: CB.top, width: CB.width, height: CB.height, containLabel: false });
  xAxis.push({
    type: "value",
    gridIndex: p,
    min: CBAR_MIN,
    max: CBAR_MAX,
    position: "bottom",
    axisLine: { show: false },
    splitLine: { show: false },
    axisTick: { show: true, length: 8, lineStyle: { color: "#000", width: 2 }, customValues: CBAR_TICKS },
    axisLabel: {
      show: true,
      customValues: CBAR_TICKS,
      formatter: (v: number) => v.toFixed(1),
      fontSize: 24.5,
      fontFamily: FONT,
      color: "#000",
      margin: 16,
    },
  });
  yAxis.push({ type: "value", gridIndex: p, min: 0, max: 1, show: false });
  graphic.push({
    type: "rect",
    z: 50,
    silent: true,
    shape: { x: CB.left, y: CB.top, width: CB.width, height: CB.height },
    style: {
      fill: {
        type: "linear",
        x: 0,
        y: 0,
        x2: 1,
        y2: 0,
        colorStops: VIRIDIS.map((c, i) => ({ offset: i / (VIRIDIS.length - 1), color: c })),
      },
      stroke: "#000",
      lineWidth: 1.6,
    },
  });

  return {
    animation: false,
    backgroundColor: "#ffffff",
    grid,
    xAxis,
    yAxis,
    visualMap,
    series: [...heat, ...scat],
    graphic,
  };
}

export default function App() {
  const ref = useRef<HTMLDivElement | null>(null);
  useEffect(() => {
    if (!ref.current) return;
    const chart = echarts.init(ref.current, undefined, { renderer: "svg", width: W, height: H });
    chart.setOption(buildOption() as any);
    return () => chart.dispose();
  }, []);
  return (
    <div
      ref={ref}
      style={{ position: "fixed", left: 0, top: 0, width: W, height: H, background: "#fff" }}
    />
  );
}
